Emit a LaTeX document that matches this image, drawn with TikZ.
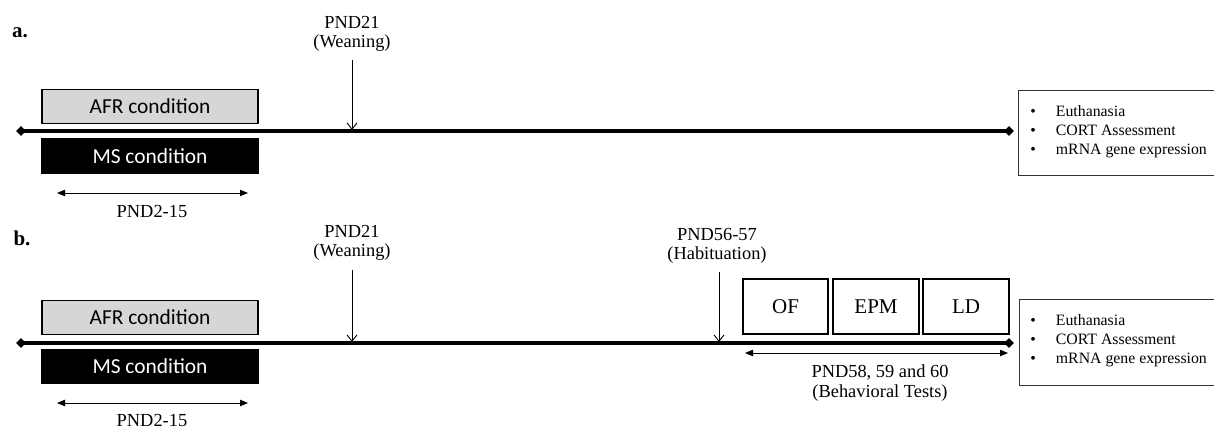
\documentclass[tikz,border=0pt]{standalone}
\usepackage{fontspec}
\setmainfont{Liberation Serif}
\newfontfamily\calfont{Carlito}
\usetikzlibrary{arrows.meta,shapes.geometric}
\tikzset{
  cond/.style={draw=black,line width=0.6pt,minimum width=108pt,minimum height=17pt,inner sep=0pt,font=\calfont\fontsize{10.7}{12}\selectfont},
  afr/.style={cond,fill=black!16},
  ms/.style={cond,fill=black,text=white},
  lbl/.style={align=center,font=\fontsize{9.2}{9.6}\selectfont,inner sep=0pt},
  listtext/.style={inner sep=0pt,anchor=west,font=\fontsize{7.9}{9.5}\selectfont},
  tick/.style={line width=0.45pt,-{Straight Barb[length=3.2pt,width=5pt]}},
  span/.style={line width=0.45pt,{Triangle[length=4pt,width=3.2pt]}-{Triangle[length=4pt,width=3.2pt]}},
  tline/.style={line width=2pt},
  dia/.style={diamond,fill=black,inner sep=0pt,minimum width=5pt,minimum height=5pt},
  test/.style={draw=black,line width=0.6pt,minimum height=27.5pt,inner sep=0pt,font=\fontsize{10.5}{12}\selectfont},
  outbox/.style={draw=black!80,line width=0.5pt,inner sep=0pt,anchor=north west},
  panel/.style={font=\bfseries\fontsize{10.5}{12}\selectfont,inner sep=0pt},
}
\newcommand{\outlist}{%
  \begin{tabular}{@{}l@{\hspace{10pt}}l@{}}
  \textbullet & Euthanasia\\
  \textbullet & CORT Assessment\\
  \textbullet & mRNA gene expression
  \end{tabular}}
\begin{document}
\begin{tikzpicture}[x=0.5pt,y=-0.5pt]
\useasboundingbox (0,0) rectangle (1214,429);
% ---------- panel a ----------
\node[panel] (la) at (20,33) {a.};
\node[afr] (afra) at (150,106.5) {AFR condition};
\node[ms] (msa) at (150,156) {MS condition};
\node[dia] (da1) at (21,131) {};
\node[dia] (da2) at (1009,131) {};
\draw[tline] (da1.center) -- (da2.center);
\node[lbl] (pa21) at (352,34) {PND21\\(Weaning)};
\coordinate (pa21e) at (352,130);
\draw[tick] (pa21.south |- 0,60) -- (pa21e);
\coordinate (sa1) at (57,193);
\coordinate (sa2) at (248,193);
\draw[span] (sa1) -- (sa2);
\node[lbl] (pa215) at (152,211) {PND2-15};
\node[outbox,minimum width=110pt,minimum height=42.5pt] (ra) at (1018,90) {};
\node[listtext] (lista) at (1030,132) {\outlist};
% ---------- panel b ----------
\node[panel] (lb) at (22,238) {b.};
\node[afr] (afrb) at (150,317.5) {AFR condition};
\node[ms] (msb) at (150,366.5) {MS condition};
\node[dia] (db1) at (21,343) {};
\node[dia] (db2) at (1009,343) {};
\draw[tline] (db1.center) -- (db2.center);
\node[lbl] (pb21) at (352,243) {PND21\\(Weaning)};
\coordinate (pb21e) at (352,342);
\draw[tick] (pb21.south |- 0,270) -- (pb21e);
\node[lbl] (pb56) at (717,246) {PND56-57\\(Habituation)};
\coordinate (pb56e) at (719,342);
\draw[tick] (719,272) -- (pb56e);
\node[test,minimum width=42.5pt] (of) at (785.5,306.5) {OF};
\node[test,minimum width=43pt] (epm) at (876,306.5) {EPM};
\node[test,minimum width=43pt] (ld) at (966,306.5) {LD};
\coordinate (sb3) at (745,353);
\coordinate (sb4) at (1008,353);
\draw[span] (sb3) -- (sb4);
\node[lbl] (pb58) at (880,383) {PND58, 59 and 60\\(Behavioral Tests)};
\coordinate (sb1) at (57,403);
\coordinate (sb2) at (248,403);
\draw[span] (sb1) -- (sb2);
\node[lbl] (pb215) at (152,420) {PND2-15};
\node[outbox,minimum width=110pt,minimum height=43pt] (rb) at (1019,299) {};
\node[listtext] (listb) at (1030,341) {\outlist};
\end{tikzpicture}
\end{document}
